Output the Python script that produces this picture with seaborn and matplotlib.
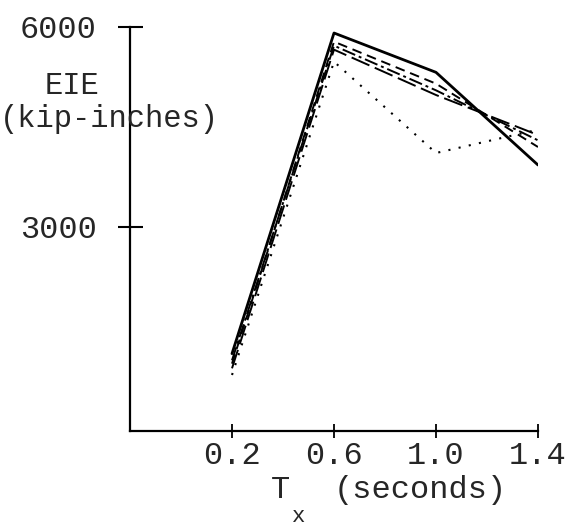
import numpy as np
import pandas as pd
import matplotlib
matplotlib.use("Agg")
import matplotlib.pyplot as plt
import seaborn as sns

# periods (seconds)
periods = [0.2, 0.6, 1.0, 1.4]

# EIE values (kip-inches)
eie_solid = [1100, 5910, 5320, 3930]
eie_dashed = [950, 5780, 5150, 4200]
eie_dashdot = [1000, 5720, 5050, 4300]
eie_longdash = [880, 5660, 4980, 4380]
eie_dotted = [780, 5480, 4110, 4460]

series = {
    "solid": (eie_solid, "-", 2.0),
    "dashed": (eie_dashed, (0, (5, 3)), 1.4),
    "dashdot": (eie_dashdot, (0, (7, 2, 1.5, 2)), 1.4),
    "longdash": (eie_longdash, (0, (10, 3)), 1.4),
    "dotted": (eie_dotted, (0, (1, 4)), 1.5),
}

sns.set_style("white")
plt.rcParams["font.family"] = ["Liberation Mono", "DejaVu Sans Mono"]

fig = plt.figure(figsize=(5.75, 5.27), dpi=100)
ax = fig.add_axes([130 / 575, 1 - 431 / 527, (538 - 130) / 575, (431 - 27) / 527])

for name, (vals, ls, lw) in series.items():
    df = pd.DataFrame({"T": periods, "EIE": vals})
    sns.lineplot(data=df, x="T", y="EIE", ax=ax, color="black",
                 linestyle=ls, linewidth=lw, legend=False)

ax.set_xlim(-0.2, 1.4)
ax.set_ylim(-60, 6000)
ax.set_xticks(periods)
ax.set_xticklabels(["0.2", "0.6", "1.0", "1.4"])
ax.set_yticks([3000, 6000])
ax.set_yticklabels(["3000", "6000"])
ax.tick_params(axis="x", bottom=True, direction="inout", length=10, width=1.3,
               labelsize=23, color="black", pad=2)
ax.tick_params(axis="y", left=True, direction="inout", length=18, width=1.5,
               labelsize=23, color="black", pad=15)
ax.set_xlabel("")
ax.set_ylabel("")

for s in ["top", "right"]:
    ax.spines[s].set_visible(False)
for s in ["left", "bottom"]:
    ax.spines[s].set_color("black")
    ax.spines[s].set_linewidth(1.6)

fig.text(72 / 575, 1 - 86 / 527, "EIE", ha="center", va="center", fontsize=22)
fig.text(0.0, 1 - 119 / 527, "(kip-inches)", ha="left", va="center", fontsize=22)
fig.text(280 / 575, 1 - 490 / 527, "T", ha="center", va="center", fontsize=23)
fig.text(299 / 575, 1 - 516 / 527, "x", ha="center", va="center", fontsize=16)
fig.text(420 / 575, 1 - 490 / 527, "(seconds)", ha="center", va="center", fontsize=23)

fig.savefig("out.png", dpi=100)
